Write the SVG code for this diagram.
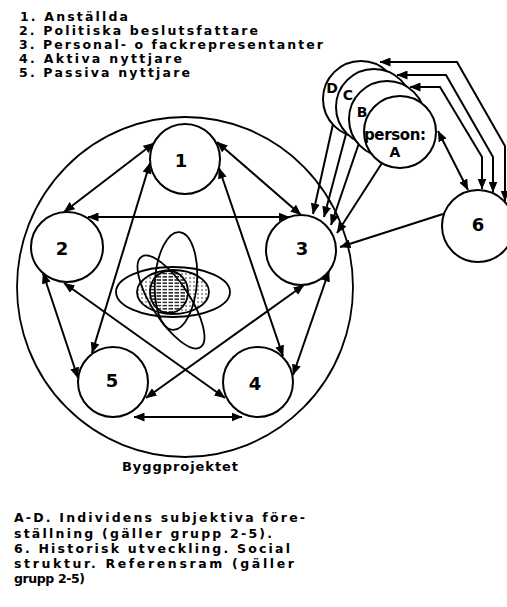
<svg xmlns="http://www.w3.org/2000/svg" width="507" height="607" viewBox="0 0 507 607">
<style>
text{font-family:"DejaVu Sans","Liberation Sans",sans-serif;font-weight:bold;fill:#000}
.leg{font-size:12.5px}
.num{font-size:18px;text-anchor:middle}
.lab{font-size:14px;text-anchor:middle}
.node{fill:#fff;stroke:#000;stroke-width:2}
.con{fill:none;stroke:#000;stroke-width:2;marker-end:url(#ah)}
.bi{marker-start:url(#ah)}
.ell{fill:none;stroke:#000;stroke-width:1.8}
</style>
<defs>
<marker id="ah" viewBox="0 0 11 9" refX="10.5" refY="4.5" markerWidth="11" markerHeight="9" markerUnits="userSpaceOnUse" orient="auto-start-reverse"><path d="M0,0 L11,4.5 L0,9 z" fill="#000"/></marker>
<pattern id="hatch" width="6" height="3.2" patternUnits="userSpaceOnUse"><rect width="6" height="3.2" fill="#fff"/><line x1="0.5" y1="1.6" x2="5" y2="1.6" stroke="#000" stroke-width="1.3"/></pattern>
<pattern id="dots" width="4" height="4" patternUnits="userSpaceOnUse"><rect width="4" height="4" fill="#fff"/><circle cx="2" cy="2" r="0.7" fill="#000"/></pattern>
</defs>
<rect width="507" height="607" fill="#fff"/>

<g id="legend" class="leg">
<text x="20" y="21" textLength="108" lengthAdjust="spacing">1. Anställda</text>
<text x="19" y="35" textLength="239" lengthAdjust="spacing">2. Politiska beslutsfattare</text>
<text x="19" y="49" textLength="304" lengthAdjust="spacing">3. Personal- o fackrepresentanter</text>
<text x="19" y="63" textLength="163" lengthAdjust="spacing">4. Aktiva nyttjare</text>
<text x="19" y="77" textLength="171" lengthAdjust="spacing">5. Passiva nyttjare</text>
</g>

<g id="byggprojektet">
<ellipse cx="185" cy="287" rx="168" ry="170" class="ell" stroke-width="2"/>
<text x="122" y="471" font-size="13" textLength="116" lengthAdjust="spacing">Byggprojektet</text>
</g>

<g id="cluster">
<ellipse cx="173" cy="292" rx="36" ry="22" fill="url(#dots)" stroke="#000" stroke-width="1.8"/>
<ellipse cx="169" cy="292" rx="19" ry="21" fill="url(#hatch)" stroke="#000" stroke-width="1.8"/>
<ellipse cx="173" cy="292" rx="57" ry="25" class="ell"/>
<ellipse cx="176" cy="281" rx="21" ry="49" class="ell" transform="rotate(4 176 281)"/>
<ellipse cx="171" cy="302" rx="54" ry="19" class="ell" transform="rotate(57 171 302)"/>
</g>

<g id="connectors">
<path class="con bi" d="M154,143 L64,212"/>
<path class="con bi" d="M217,142 L301,215"/>
<path class="con bi" d="M88,217 L289,217"/>
<path class="con bi" d="M150,163 L92,353"/>
<path class="con bi" d="M219,168 L283,356"/>
<path class="con bi" d="M43,273 L78,378"/>
<path class="con bi" d="M64,283 L225,398"/>
<path class="con bi" d="M304,285 L146,398"/>
<path class="con bi" d="M329,271 L293,375"/>
<path class="con bi" d="M134,417 L242,417"/>
<path class="con" d="M333,124 L313,214"/>
<path class="con" d="M346,134 L324,217"/>
<path class="con" d="M359,143 L331,225"/>
<path class="con" d="M382,163 L337,233"/>
<path class="con" d="M443,214 L340,247"/>
<path class="con bi" d="M438,131 L468,190"/>
<path class="con bi" d="M380,62 H457 L505,146 V201"/>
<path class="con bi" d="M397,75 H446 L493,157 V192"/>
<path class="con bi" d="M410,87 H440 L482,157 V189"/>
</g>

<g id="n1"><circle class="node" cx="185" cy="159" r="35"/><text class="num" x="181" y="167">1</text></g>
<g id="n2"><ellipse class="node" cx="67" cy="247" rx="36" ry="35"/><text class="num" x="62" y="255">2</text></g>
<g id="n3"><circle class="node" cx="301" cy="250" r="35"/><text class="num" x="302" y="255">3</text></g>
<g id="n4"><circle class="node" cx="258" cy="382" r="35"/><text class="num" x="255" y="390">4</text></g>
<g id="n5"><circle class="node" cx="113" cy="382" r="35"/><text class="num" x="112" y="387">5</text></g>
<g id="n6"><circle class="node" cx="478" cy="226" r="36"/><text class="num" x="478" y="231">6</text></g>

<g id="personD"><circle class="node" cx="361" cy="99" r="38"/><text class="lab" x="332" y="93">D</text></g>
<g id="personC"><circle class="node" cx="374" cy="107" r="38"/><text class="lab" x="348" y="100">C</text></g>
<g id="personB"><circle class="node" cx="387" cy="119" r="38"/><text class="lab" x="362" y="117">B</text></g>
<g id="personA"><circle class="node" cx="400" cy="132" r="36"/>
<text x="364" y="140" font-size="15" textLength="62" lengthAdjust="spacing">person:</text>
<text class="lab" x="395" y="157">A</text></g>

<g id="notes" class="leg">
<text x="14" y="522" textLength="291" lengthAdjust="spacing">A-D. Individens subjektiva före-</text>
<text x="14" y="538" textLength="258" lengthAdjust="spacing">ställning (gäller grupp 2-5).</text>
<text x="14" y="553" textLength="276" lengthAdjust="spacing">6. Historisk utveckling. Social</text>
<text x="14" y="568" textLength="280" lengthAdjust="spacing">struktur. Referensram (gäller</text>
<text x="14" y="583" textLength="71" lengthAdjust="spacing">grupp 2-5)</text>
</g>
</svg>
